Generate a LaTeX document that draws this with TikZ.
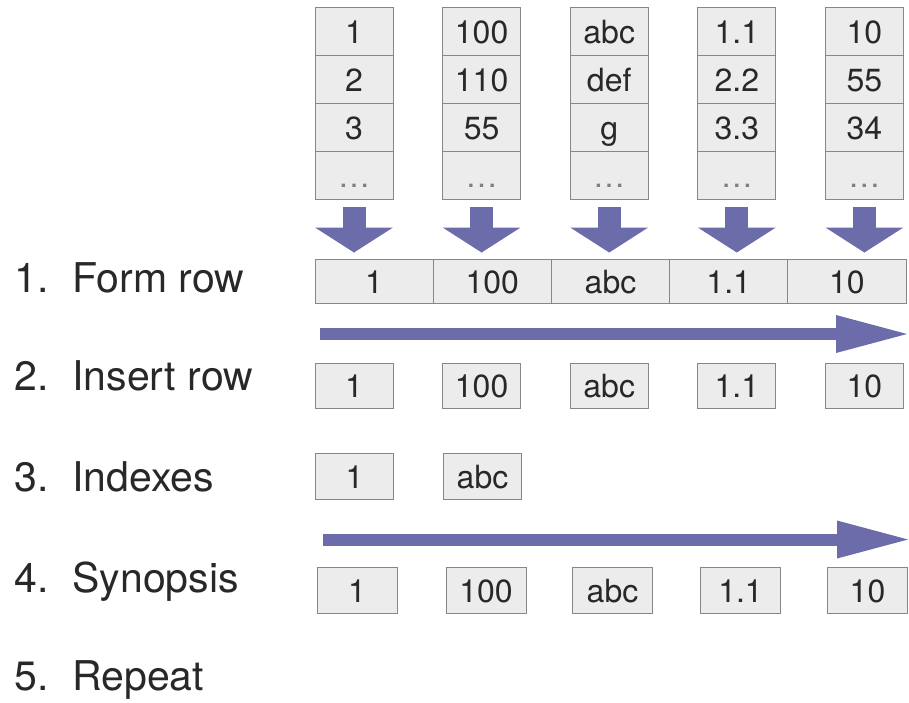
\documentclass[tikz,border=0pt]{standalone}
\usepackage{fontspec}
\setmainfont{TeX Gyre Heros}
\usetikzlibrary{arrows.meta}
\definecolor{arrowblue}{RGB}{108,108,170}
\definecolor{cellgray}{RGB}{236,236,236}
\definecolor{edgegray}{RGB}{135,135,135}
\definecolor{textgray}{RGB}{40,40,40}
\begin{document}
\begin{tikzpicture}[x=0.5pt, y=-0.5pt,
    cell/.style={draw=edgegray, fill=cellgray, line width=0.5pt, inner sep=0pt,
        minimum width=39pt, minimum height=24pt, text height=12pt, text depth=0pt,
        font=\fontsize{16}{18}\selectfont, text=textgray},
    lbl/.style={anchor=base west, inner sep=0pt, font=\fontsize{20.5}{24}\selectfont, text=textgray},
    bigdown/.style={arrowblue, line width=11.5pt, -{Triangle[width=39pt, length=12.5pt, line width=0pt]}},
    bigright/.style={arrowblue, line width=6pt, -{Triangle[width=19pt, length=35.5pt, line width=0pt]}}]
    \useasboundingbox (0,0) rectangle (909,702);
    % step labels
    \foreach \n/\t/\y [count=\i] in {1./Form row/292, 2./Insert row/390, 3./Indexes/491, 4./Synopsis/592, 5./Repeat/690} {
        \node[lbl] (num\i) at (14,\y) {\n};
        \node[lbl] (lbl\i) at (72,\y) {\t};
    }
    % columns
    \foreach \x/\a/\b/\c [count=\i] in {354/1/2/3, 481.6/100/110/55, 609.2/abc/def/g, 736.8/1.1/2.2/3.3, 864.4/10/55/34} {
        \node[cell] (c\i-1) at (\x,31) {\a};
        \node[cell] (c\i-2) at (\x,79) {\b};
        \node[cell] (c\i-3) at (\x,127) {\c};
        \node[cell, text=gray] (c\i-4) at (\x,175) {\dots};
    }
    % 1. form row
    \foreach \v [count=\i] in {1, 100, abc, 1.1, 10} {
        \node[cell, minimum width=59.1pt, minimum height=22pt] (f\i) at (255.9+118.2*\i,281) {\v};
    }
    \foreach \i in {1,...,5} {
        \draw[bigdown] ([yshift=-3.5pt]c\i-4.south) -- ([yshift=3pt]c\i-4.south |- f1.north);
    }
    % 2. insert row
    \coordinate (r1a) at (320,334);
    \coordinate (r1b) at (907,334);
    \draw[bigright] (r1a) -- (r1b);
    \foreach \x/\v [count=\i] in {354/1, 481.6/100, 609.2/abc, 736.8/1.1, 864.4/10} {
        \node[cell, minimum height=22.5pt] (i\i) at (\x,385.5) {\v};
    }
    % 3. indexes
    \node[cell, minimum height=23pt] (x1) at (354.5,476) {1};
    \node[cell, minimum height=23pt] (x2) at (482.5,476) {abc};
    % 4. synopsis
    \coordinate (r2a) at (323,539.5);
    \coordinate (r2b) at (908,539.5);
    \draw[bigright] (r2a) -- (r2b);
    \foreach \x/\v [count=\i] in {357/1, 486/100, 612.5/abc, 740.5/1.1, 867.5/10} {
        \node[cell, minimum width=40pt, minimum height=23pt] (s\i) at (\x,590) {\v};
    }
\end{tikzpicture}
\end{document}
